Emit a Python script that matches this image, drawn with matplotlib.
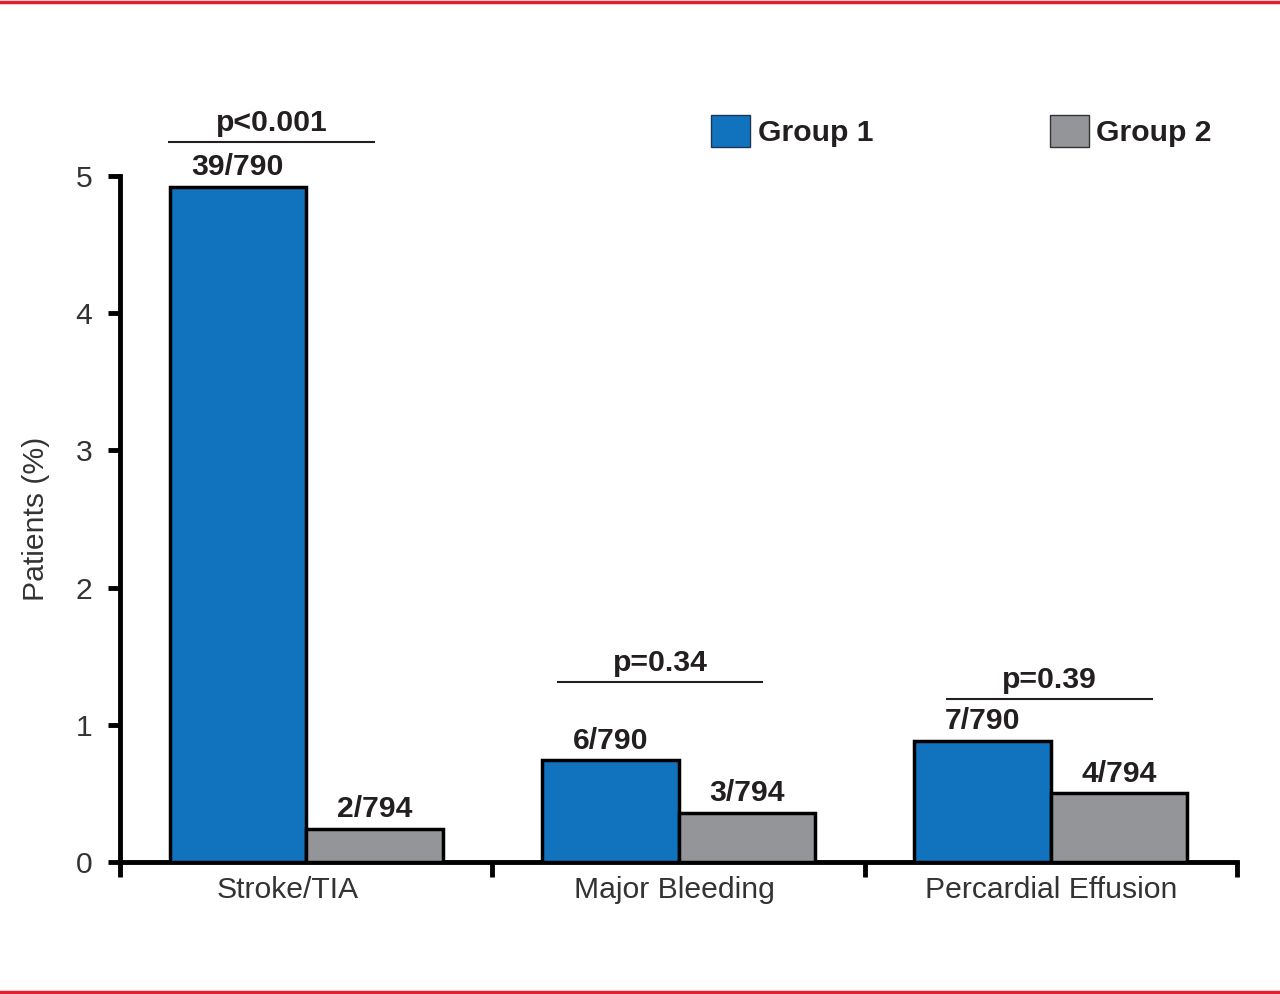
import matplotlib
matplotlib.use("Agg")
import matplotlib.pyplot as plt
from matplotlib.patches import Patch
from matplotlib.lines import Line2D
import numpy as np

# ---- data ----
categories = ["Stroke/TIA", "Major Bleeding", "Percardial Effusion"]
group1 = [4.92, 0.74, 0.88]
group2 = [0.24, 0.36, 0.50]
group1_labels = ["39/790", "6/790", "7/790"]
group2_labels = ["2/794", "3/794", "4/794"]
p_values = ["p<0.001", "p=0.34", "p=0.39"]
series_names = ["Group 1", "Group 2"]
y_ticks = [0, 1, 2, 3, 4, 5]

# ---- style / layout ----
BLUE = "#1173bd"
GRAY = "#939598"
TXT = "#231f20"
RED = "#e31e2d"
FS = 21.7
plt.rcParams["font.family"] = ["Liberation Sans", "DejaVu Sans"]

p_line_y = [5.248, 1.312, 1.188]
p_line_x0 = [0.129, 1.174, 2.219]
p_line_x1 = [0.685, 1.727, 2.775]
label_shift = [-0.05, -0.01, 0.0]
width = 0.367

fig = plt.figure(figsize=(12.8, 9.94), dpi=100)
ax = fig.add_axes([120 / 1280, 1 - 862 / 994, (1237 - 120) / 1280, (862 - 176) / 994])

x = np.arange(len(categories)) + 0.5
b1 = ax.bar(x - width / 2, group1, width, color=BLUE, edgecolor="black", linewidth=2.5, zorder=3)
b2 = ax.bar(x + width / 2, group2, width, color=GRAY, edgecolor="black", linewidth=2.5, zorder=3)

for xi, v, lab in zip(x - width / 2, group1, group1_labels):
    ax.annotate(lab, (xi, v), xytext=(0, 8.5), textcoords="offset points",
                ha="center", va="baseline", fontsize=FS, fontweight="bold",
                color=TXT, annotation_clip=False)
for xi, v, lab in zip(x + width / 2, group2, group2_labels):
    ax.annotate(lab, (xi, v), xytext=(0, 8.5), textcoords="offset points",
                ha="center", va="baseline", fontsize=FS, fontweight="bold",
                color=TXT, annotation_clip=False)

for y, x0, x1, p in zip(p_line_y, p_line_x0, p_line_x1, p_values):
    ax.plot([x0, x1], [y, y], color=TXT, lw=1.5, clip_on=False, solid_capstyle="butt")
    ax.annotate(p, ((x0 + x1) / 2, y), xytext=(0, 8), textcoords="offset points",
                ha="center", va="baseline", fontsize=FS, fontweight="bold",
                color=TXT, annotation_clip=False)

ax.set_xlim(0, 3)
ax.set_ylim(0, 5)
ax.set_yticks(y_ticks)
ax.set_yticklabels([str(t) for t in y_ticks])
ax.set_xticks([0, 1, 2, 3])
ax.set_xticklabels([])
ax.set_xticks(x + np.array(label_shift), minor=True)
ax.set_xticklabels(categories, minor=True)
ax.tick_params(axis="x", which="minor", length=0, pad=10, labelsize=FS, labelcolor="#333333")
ax.tick_params(axis="x", which="major", length=11, width=3.5, direction="out", color="black")
ax.tick_params(axis="y", length=9, width=3.5, direction="out", pad=11,
               labelsize=FS, labelcolor="#333333", color="black")

for s in ["top", "right"]:
    ax.spines[s].set_visible(False)
for s in ["left", "bottom"]:
    ax.spines[s].set_linewidth(3.5)
    ax.spines[s].set_color("black")
    ax.spines[s].set_capstyle("projecting")

ax.set_ylabel("Patients (%)", fontsize=FS, color="#333333", labelpad=18)

handles = [Patch(facecolor=BLUE, edgecolor="#1d3557", linewidth=1.0),
           Patch(facecolor=GRAY, edgecolor="#333333", linewidth=1.0)]
fig.legend(handles, series_names, loc="center left",
           bbox_to_anchor=(711 / 1280, 1 - 131 / 994), ncol=2, frameon=False,
           borderpad=0, borderaxespad=0, handlelength=1.3, handleheight=1.3,
           handletextpad=0.25, columnspacing=5.85,
           prop={"size": FS, "weight": "bold"}, labelcolor=TXT)

# red rules at top and bottom
fig.add_artist(Line2D([0, 1], [1 - 1.5 / 994, 1 - 1.5 / 994], color=RED, lw=2.5, transform=fig.transFigure))
fig.add_artist(Line2D([0, 1], [2 / 994, 2 / 994], color=RED, lw=2.5, transform=fig.transFigure))

fig.savefig("out.png", dpi=100)
